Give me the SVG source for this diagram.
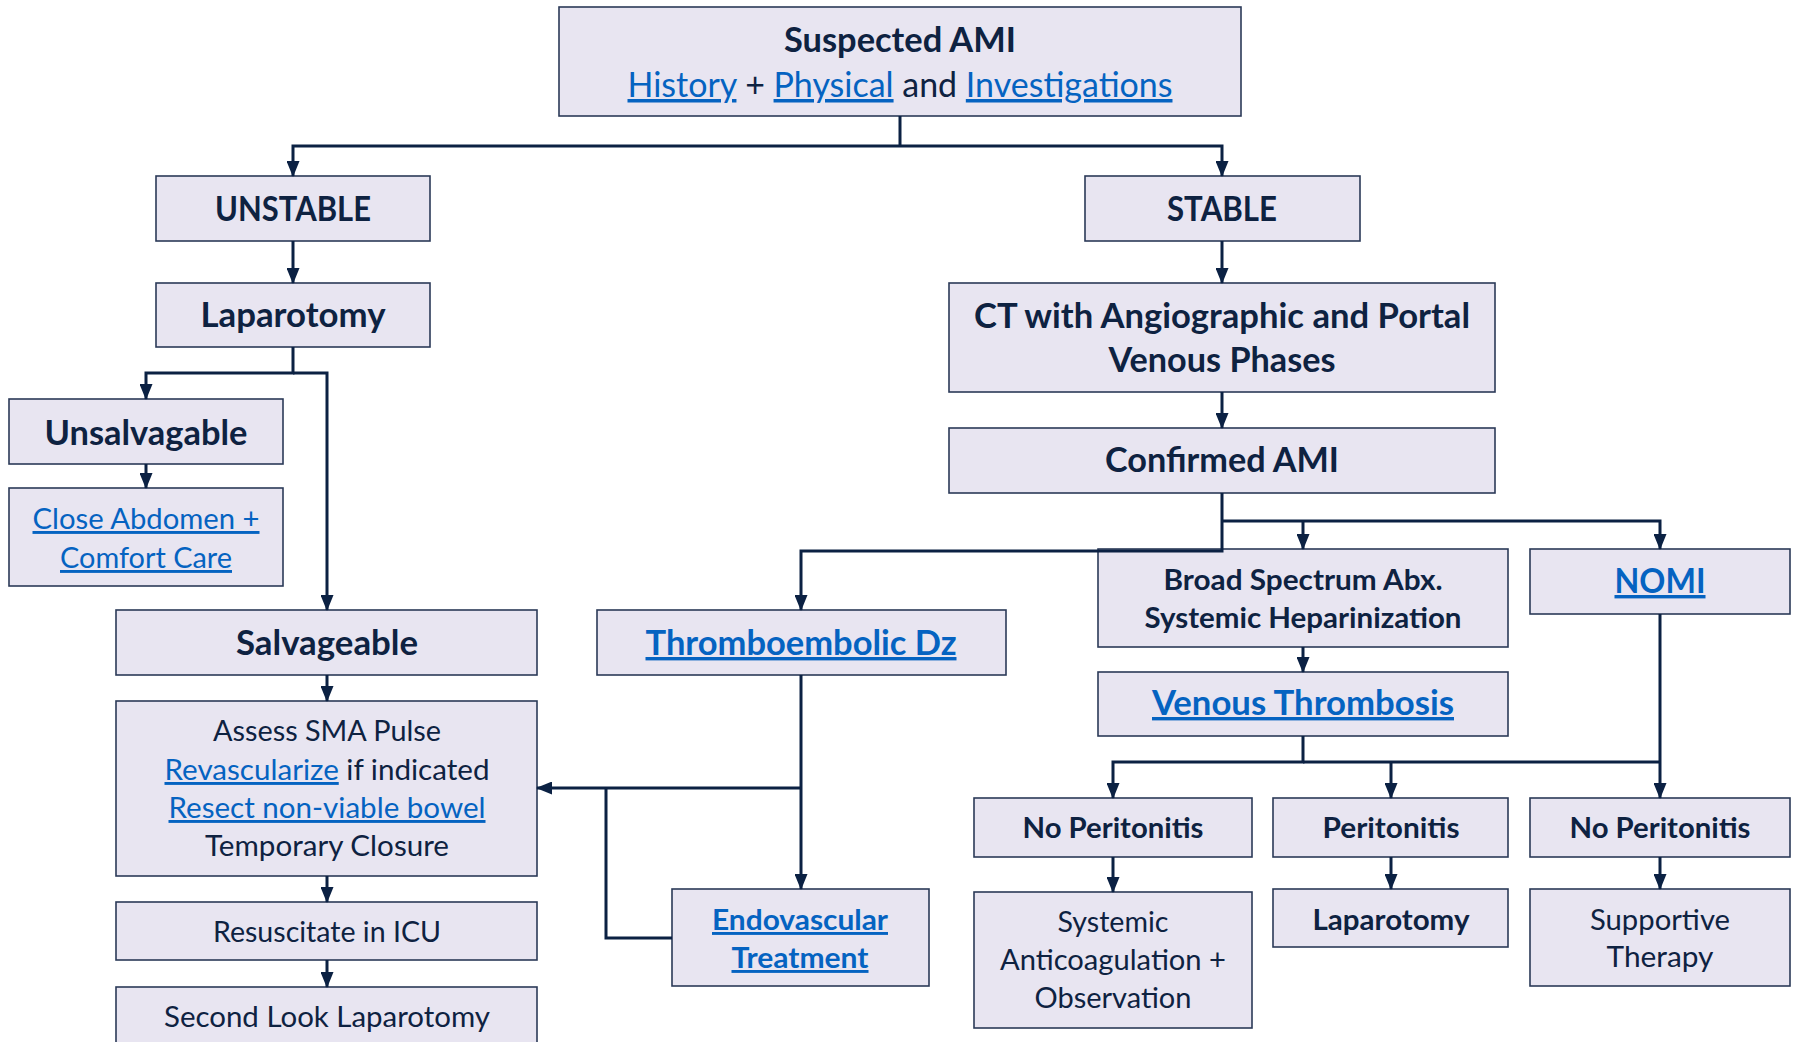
<svg xmlns="http://www.w3.org/2000/svg" width="1799" height="1042" viewBox="0 0 1799 1042">
<style>
.box{fill:#E8E5F1;stroke:#2B3A58;stroke-width:1.6}
.t{font-family:Lato,"Liberation Sans",sans-serif;fill:#0E2241;text-anchor:middle}
.b{font-weight:bold}
.lk{fill:#0563C1;text-decoration:underline}
.conn path{fill:none;stroke:#0B2143;stroke-width:3}
</style>
<defs>
<marker id="arr" viewBox="0 0 16 13" refX="15" refY="6.5" markerWidth="16" markerHeight="13" markerUnits="userSpaceOnUse" orient="auto">
<path d="M0,0 L16,6.5 L0,13 z" fill="#0B2143"/>
</marker>
</defs>
<rect width="1799" height="1042" fill="#fff"/>

<g id="n_top"><rect class="box" x="559" y="7" width="682" height="109"/>
<text class="t b" x="900" y="52" font-size="35" textLength="232" lengthAdjust="spacingAndGlyphs">Suspected AMI</text>
<text class="t" x="900" y="97" font-size="35" textLength="545" lengthAdjust="spacingAndGlyphs"><tspan class="lk">History</tspan> + <tspan class="lk">Physical</tspan> and <tspan class="lk">Investigations</tspan></text></g>

<g id="n_unstable"><rect class="box" x="156" y="176" width="274" height="65"/>
<text class="t b" x="293" y="221" font-size="34" textLength="156" lengthAdjust="spacingAndGlyphs">UNSTABLE</text></g>
<g id="n_stable"><rect class="box" x="1085" y="176" width="275" height="65"/>
<text class="t b" x="1222" y="221" font-size="34" textLength="110" lengthAdjust="spacingAndGlyphs">STABLE</text></g>

<g id="n_lap1"><rect class="box" x="156" y="283" width="274" height="64"/>
<text class="t b" x="293" y="327" font-size="34" textLength="185" lengthAdjust="spacingAndGlyphs">Laparotomy</text></g>

<g id="n_ct"><rect class="box" x="949" y="283" width="546" height="109"/>
<text class="t b" x="1222" y="328" font-size="34" textLength="496" lengthAdjust="spacingAndGlyphs">CT with Angiographic and Portal</text>
<text class="t b" x="1222" y="372" font-size="34" textLength="227" lengthAdjust="spacingAndGlyphs">Venous Phases</text></g>

<g id="n_confirmed"><rect class="box" x="949" y="428" width="546" height="65"/>
<text class="t b" x="1222" y="472" font-size="34" textLength="234" lengthAdjust="spacingAndGlyphs">Confirmed AMI</text></g>

<g id="n_unsalv"><rect class="box" x="9" y="399" width="274" height="65"/>
<text class="t b" x="146" y="445" font-size="34" textLength="203" lengthAdjust="spacingAndGlyphs">Unsalvagable</text></g>

<g id="n_close"><rect class="box" x="9" y="488" width="274" height="98"/>
<text class="t lk" x="146" y="529" font-size="29" textLength="227" lengthAdjust="spacingAndGlyphs">Close Abdomen +</text>
<text class="t lk" x="146" y="568" font-size="29" textLength="172" lengthAdjust="spacingAndGlyphs">Comfort Care</text></g>

<g id="n_salv"><rect class="box" x="116" y="610" width="421" height="65"/>
<text class="t b" x="327" y="655" font-size="34" textLength="182" lengthAdjust="spacingAndGlyphs">Salvageable</text></g>

<g id="n_assess"><rect class="box" x="116" y="701" width="421" height="175"/>
<text class="t" x="327" y="741" font-size="29" textLength="228" lengthAdjust="spacingAndGlyphs">Assess SMA Pulse</text>
<text class="t" x="327" y="780" font-size="29" textLength="325" lengthAdjust="spacingAndGlyphs"><tspan class="lk">Revascularize</tspan> if indicated</text>
<text class="t lk" x="327" y="818" font-size="29" textLength="317" lengthAdjust="spacingAndGlyphs">Resect non-viable bowel</text>
<text class="t" x="327" y="856" font-size="29" textLength="244" lengthAdjust="spacingAndGlyphs">Temporary Closure</text></g>

<g id="n_resus"><rect class="box" x="116" y="902" width="421" height="58"/>
<text class="t" x="327" y="942" font-size="29" textLength="228" lengthAdjust="spacingAndGlyphs">Resuscitate in ICU</text></g>

<g id="n_second"><rect class="box" x="116" y="987" width="421" height="70"/>
<text class="t" x="327" y="1027" font-size="29" textLength="326" lengthAdjust="spacingAndGlyphs">Second Look Laparotomy</text></g>

<g id="n_thrombo"><rect class="box" x="597" y="610" width="409" height="65"/>
<text class="t b lk" x="801" y="655" font-size="34" textLength="311" lengthAdjust="spacingAndGlyphs">Thromboembolic Dz</text></g>

<g id="n_endo"><rect class="box" x="672" y="889" width="257" height="97"/>
<text class="t b lk" x="800" y="930" font-size="29" textLength="176" lengthAdjust="spacingAndGlyphs">Endovascular</text>
<text class="t b lk" x="800" y="968" font-size="29" textLength="137" lengthAdjust="spacingAndGlyphs">Treatment</text></g>

<g id="n_broad"><rect class="box" x="1098" y="549" width="410" height="98"/>
<text class="t b" x="1303" y="590" font-size="29" textLength="279" lengthAdjust="spacingAndGlyphs">Broad Spectrum Abx.</text>
<text class="t b" x="1303" y="628" font-size="29" textLength="317" lengthAdjust="spacingAndGlyphs">Systemic Heparinization</text></g>

<g id="n_nomi"><rect class="box" x="1530" y="549" width="260" height="65"/>
<text class="t b lk" x="1660" y="593" font-size="34" textLength="91" lengthAdjust="spacingAndGlyphs">NOMI</text></g>

<g id="n_venous"><rect class="box" x="1098" y="672" width="410" height="64"/>
<text class="t b lk" x="1303" y="715" font-size="34" textLength="302" lengthAdjust="spacingAndGlyphs">Venous Thrombosis</text></g>

<g id="n_noper1"><rect class="box" x="974" y="798" width="278" height="59"/>
<text class="t b" x="1113" y="838" font-size="29" textLength="181" lengthAdjust="spacingAndGlyphs">No Peritonitis</text></g>
<g id="n_per"><rect class="box" x="1273" y="798" width="235" height="59"/>
<text class="t b" x="1391" y="838" font-size="29" textLength="137" lengthAdjust="spacingAndGlyphs">Peritonitis</text></g>
<g id="n_noper2"><rect class="box" x="1530" y="798" width="260" height="59"/>
<text class="t b" x="1660" y="838" font-size="29" textLength="181" lengthAdjust="spacingAndGlyphs">No Peritonitis</text></g>

<g id="n_systemic"><rect class="box" x="974" y="892" width="278" height="136"/>
<text class="t" x="1113" y="932" font-size="29" textLength="111" lengthAdjust="spacingAndGlyphs">Systemic</text>
<text class="t" x="1113" y="970" font-size="29" textLength="226" lengthAdjust="spacingAndGlyphs">Anticoagulation +</text>
<text class="t" x="1113" y="1008" font-size="29" textLength="157" lengthAdjust="spacingAndGlyphs">Observation</text></g>
<g id="n_lap2"><rect class="box" x="1273" y="889" width="235" height="58"/>
<text class="t b" x="1391" y="930" font-size="29" textLength="157" lengthAdjust="spacingAndGlyphs">Laparotomy</text></g>
<g id="n_support"><rect class="box" x="1530" y="889" width="260" height="97"/>
<text class="t" x="1660" y="930" font-size="29" textLength="140" lengthAdjust="spacingAndGlyphs">Supportive</text>
<text class="t" x="1660" y="967" font-size="29" textLength="107" lengthAdjust="spacingAndGlyphs">Therapy</text></g>

<g id="connectors" class="conn">
<path d="M900,116 V146"/>
<path d="M900,146 H293 V176" marker-end="url(#arr)"/>
<path d="M900,146 H1222 V176" marker-end="url(#arr)"/>
<path d="M293,241 V283" marker-end="url(#arr)"/>
<path d="M1222,241 V283" marker-end="url(#arr)"/>
<path d="M1222,392 V428" marker-end="url(#arr)"/>
<path d="M293,347 V373 H146 V399" marker-end="url(#arr)"/>
<path d="M293,373 H327 V610" marker-end="url(#arr)"/>
<path d="M146,464 V488" marker-end="url(#arr)"/>
<path d="M327,675 V701" marker-end="url(#arr)"/>
<path d="M327,876 V902" marker-end="url(#arr)"/>
<path d="M327,960 V987" marker-end="url(#arr)"/>
<path d="M1222,493 V551 H801 V610" marker-end="url(#arr)"/>
<path d="M1222,521 H1660 V549" marker-end="url(#arr)"/>
<path d="M1303,521 V549" marker-end="url(#arr)"/>
<path d="M1303,647 V672" marker-end="url(#arr)"/>
<path d="M1303,736 V762 H1113 V798" marker-end="url(#arr)"/>
<path d="M1303,762 H1660"/>
<path d="M1391,762 V798" marker-end="url(#arr)"/>
<path d="M1660,614 V798" marker-end="url(#arr)"/>
<path d="M1113,857 V892" marker-end="url(#arr)"/>
<path d="M1391,857 V889" marker-end="url(#arr)"/>
<path d="M1660,857 V889" marker-end="url(#arr)"/>
<path d="M801,675 V889" marker-end="url(#arr)"/>
<path d="M801,788 H537" marker-end="url(#arr)"/>
<path d="M672,938 H606 V788"/>
</g>
</svg>
